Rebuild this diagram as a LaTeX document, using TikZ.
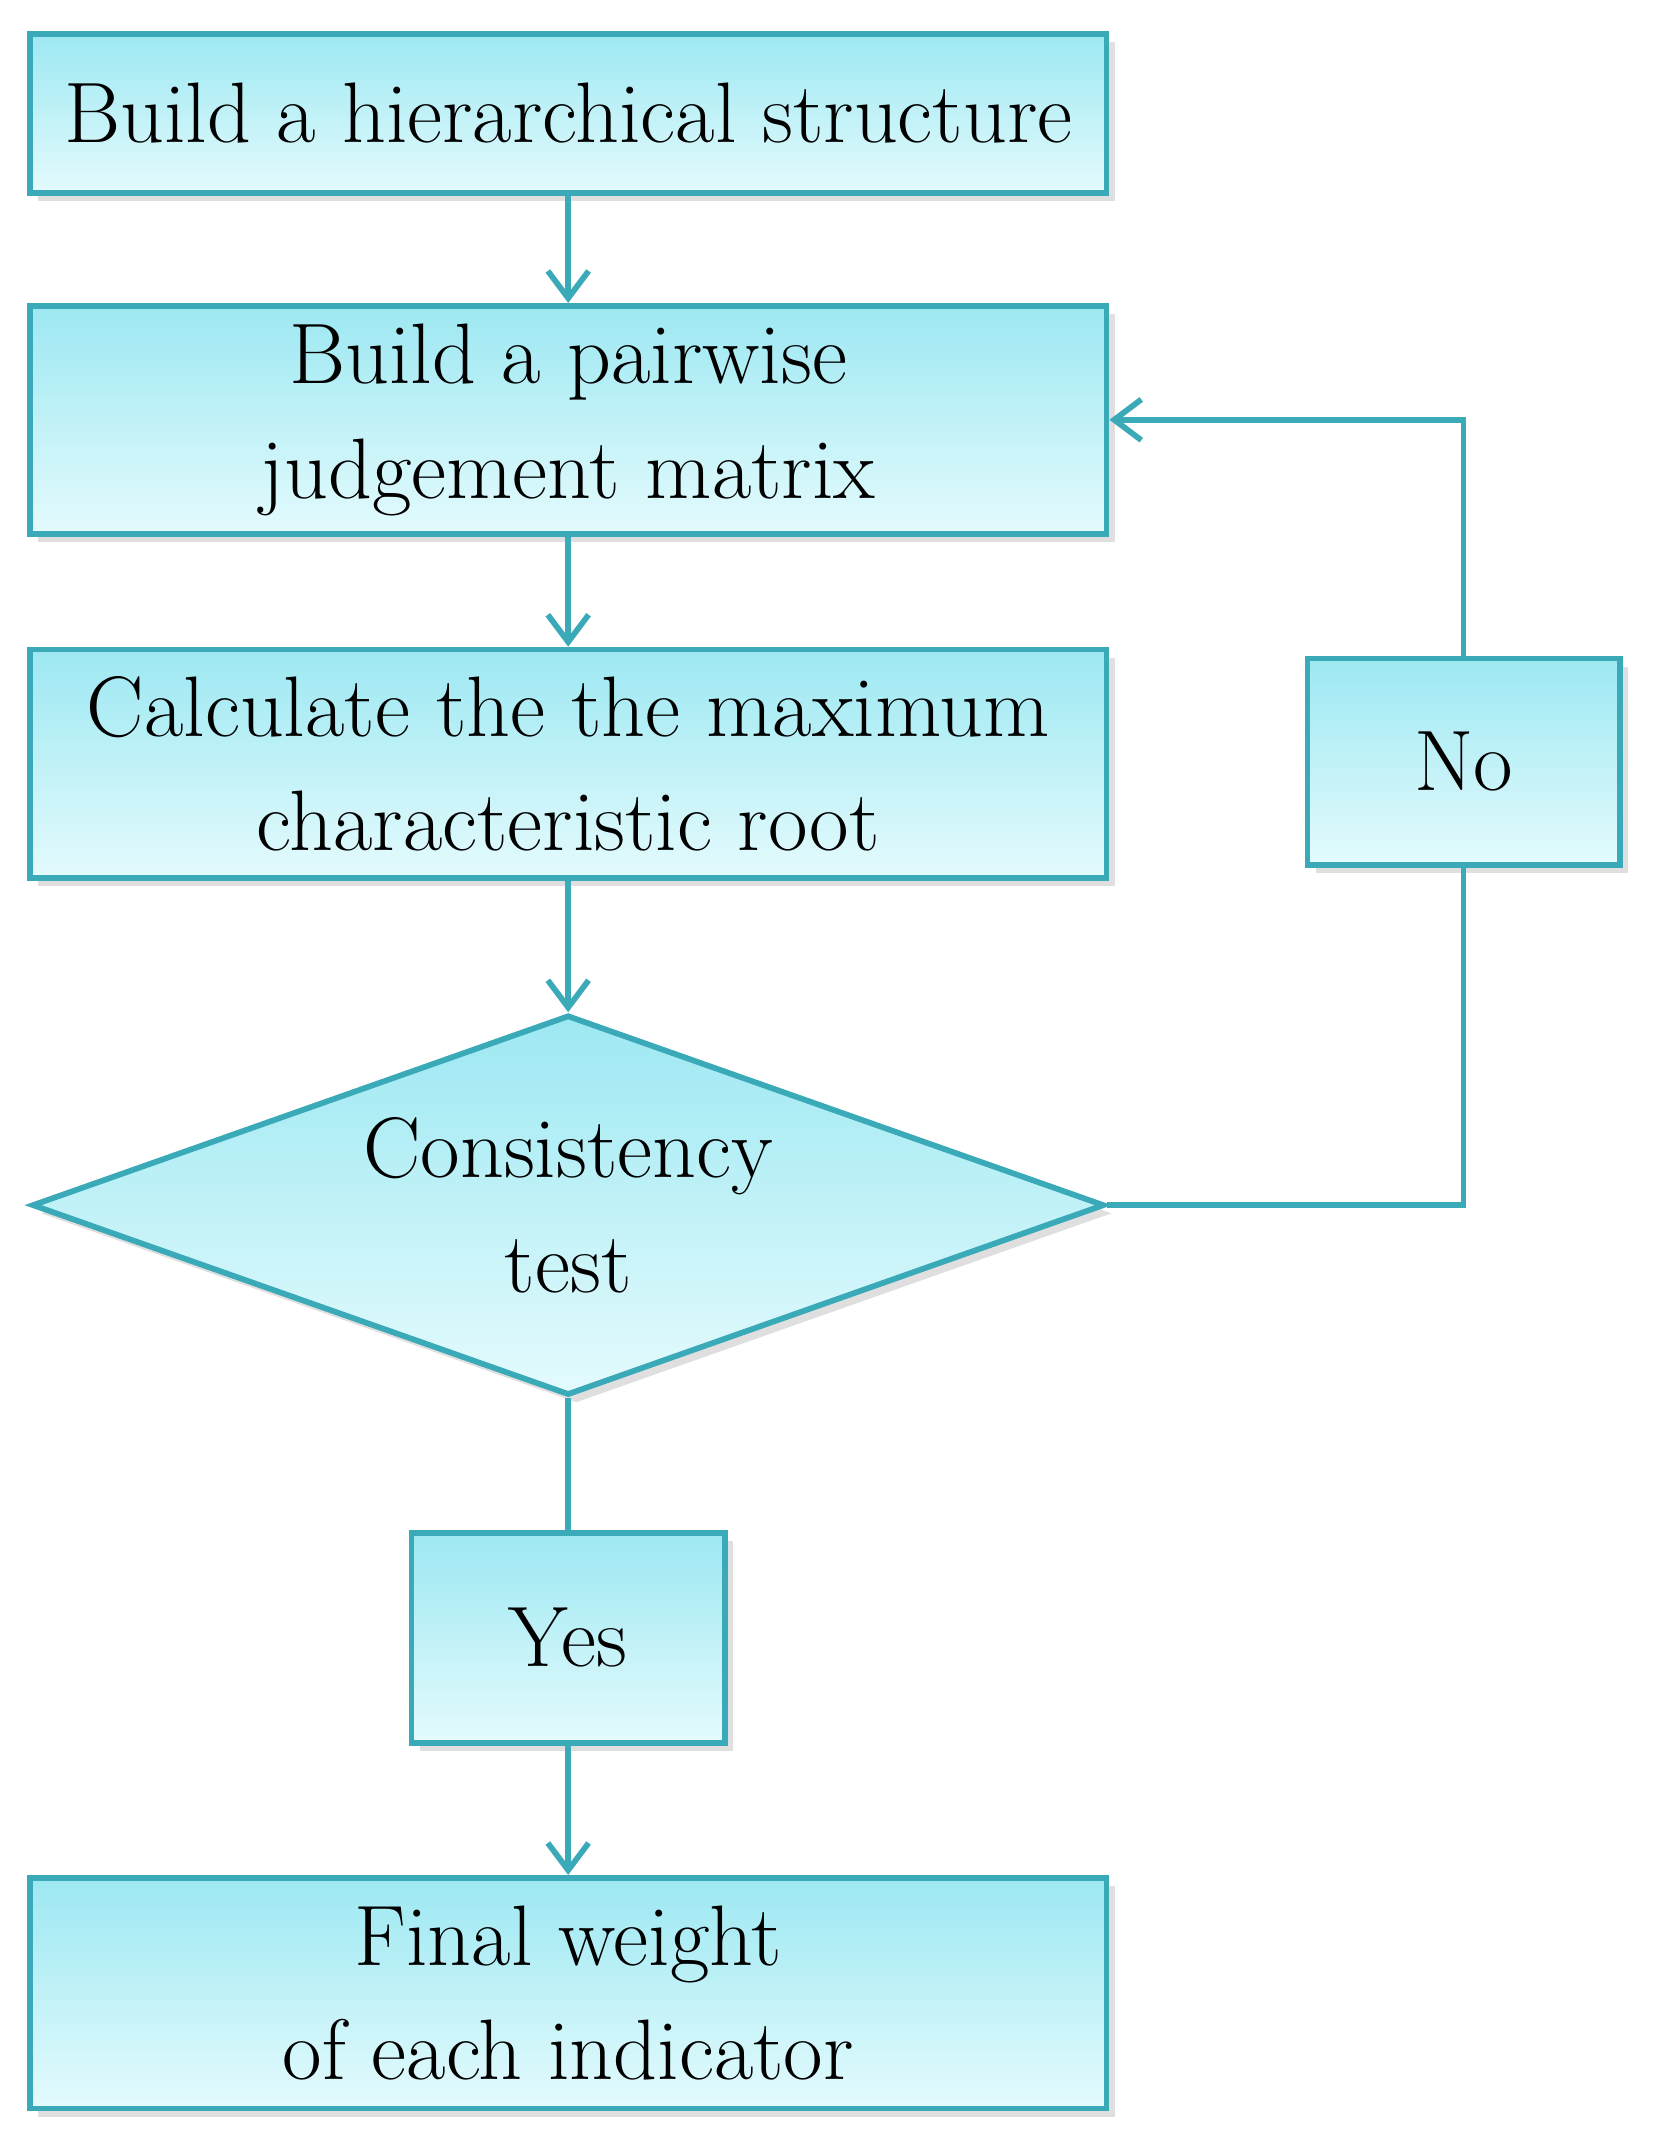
\documentclass[tikz,border=0pt]{standalone}
\usepackage{tikz}
\usetikzlibrary{positioning, shapes.geometric, arrows.meta, shadows}
\definecolor{fcEdge}{HTML}{3AA9B8}
\definecolor{fcTop}{HTML}{9DE8F2}
\definecolor{fcBot}{HTML}{E4FBFD}
\tikzstyle{fbox} = [%
  rectangle,
  draw=fcEdge,
  line width=1.2pt,
  top color=fcTop,
  bottom color=fcBot,
  drop shadow={opacity=0.25,shadow xshift=0.6mm,shadow yshift=-0.6mm},
  align=center,
  text centered,
  inner sep=0pt,
  font=\fontsize{18}{24}\selectfont
]

\begin{document}
\begin{tikzpicture}[%
  flow/.style={%
    -{Straight Barb[length=2mm,width=3mm]},
    draw=fcEdge,
    line width=1.2pt
  },
  plain/.style={draw=fcEdge,line width=1.2pt}
]
  \useasboundingbox (0,0) rectangle (12.2,-15.74);

  % Nodes
  \node[fbox,minimum width=7.93cm,minimum height=1.17cm] (S1) at (4.185,-0.835) {Build a hierarchical structure};
  \node[fbox,minimum width=7.93cm,minimum height=1.68cm,below=0.79cm of S1] (S2) {Build a pairwise\\judgement matrix};
  \node[fbox,minimum width=7.93cm,minimum height=1.68cm,below=0.81cm of S2] (S3) {Calculate the the maximum\\characteristic root};
  \node[fbox,diamond,aspect=2.82,minimum width=7.9cm,minimum height=2.8cm,below=0.97cm of S3] (T) {Consistency\\test};
  \node[fbox,minimum width=2.31cm,minimum height=1.55cm,below=0.97cm of T] (Y) {Yes};
  \node[fbox,minimum width=7.93cm,minimum height=1.7cm,below=0.95cm of Y] (F) {Final weight\\of each indicator};
  \node[fbox,minimum width=2.3cm,minimum height=1.52cm] (N) at (10.78,-5.61) {No};

  % Edges
  \draw[flow] (S1) -- (S2);
  \draw[flow] (S2) -- (S3);
  \draw[flow] (S3) -- (T);
  \draw[plain] (T) -- (Y);
  \draw[flow] (Y) -- (F);
  \draw[plain] (T.east) -| (N.south);
  \draw[flow] (N.north) |- (S2.east);

\end{tikzpicture}
\end{document}
